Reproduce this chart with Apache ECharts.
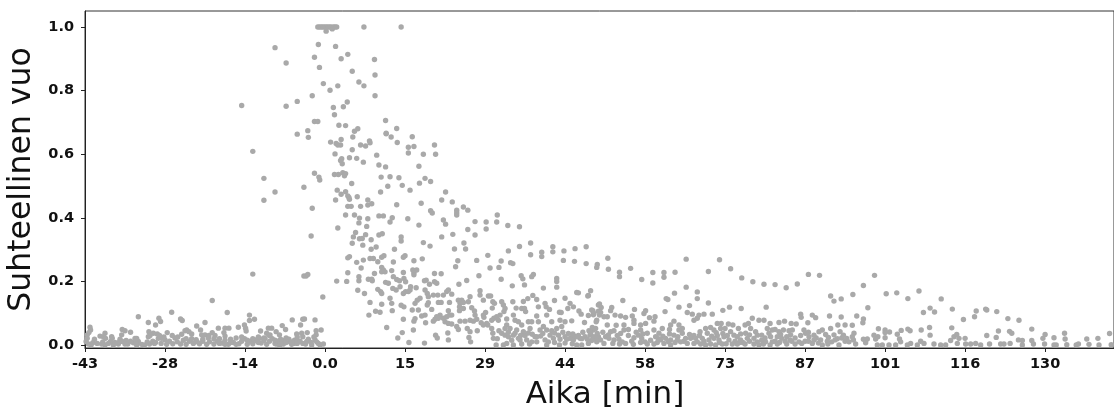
<!DOCTYPE html>
<html>
<head>
<meta charset="utf-8">
<script src="https://cdn.jsdelivr.net/npm/echarts@6/dist/echarts.min.js"></script>
<style>html,body{margin:0;padding:0;background:#fff}#c{width:1114px;height:407px}</style>
</head>
<body>
<div id="c"></div>
<script>
const xTickValues = [-43.2,-28.8,-14.4,0,14.4,28.8,43.2,57.6,72,86.4,100.8,115.2,129.6];
const xTickLabels = ['-43','-28','-14','0.0','15','29','44','58','73','87','101','116','130'];
const yTickValues = [0,0.2,0.4,0.6,0.8,1.0];
const xTitle = 'Aika [min]';
const yTitle = 'Suhteellinen vuo';

const beforeRise = [[-42.8,.032],[-42.3,.056],[-42.2,.047],[-42.5,.039],[-42.8,.021],[-43,.011],[-42.6,.003],[-41.5,.018],[-41.8,.007],[-42.1,0],[-40.5,.028],[-39.6,.037],[-39.9,.026],[-39.5,.021],[-40.2,.003],[-39.6,0],[-38.4,.026],[-38.3,.021],[-38.6,.011],[-38.1,0],[-37.2,.003],[-36.5,.049],[-36,.045],[-36.6,.032],[-36.9,.018],[-36.5,.011],[-35.8,.014],[-35,.04],[-35.5,.003],[-34.5,.007],[-34.2,.021],[-33.9,.021],[-33.6,.011],[-33.6,.089],[-33.9,0],[-31.8,.071],[-31.7,.042],[-31.8,.026],[-30.9,.037],[-30.2,.035],[-30.5,.063],[-29.9,.084],[-29.6,.074],[-30,.021],[-29.4,.021],[-28.8,.016],[-32.5,0],[-31.6,.003],[-30.7,.005],[-28.4,.039],[-27.6,.103],[-26,.082],[-25.7,.077],[-25.8,.034],[-25.2,.045],[-24.9,.047],[-24.5,.042],[-24,.035],[-23.1,.06],[-22.4,.047],[-21.6,.071],[-22.2,.032],[-21.6,.032],[-20.9,.03],[-20.3,.14],[-20.3,.039],[-19.8,.03],[-19.2,.053],[-18,.053],[-18.2,.039],[-18,.028],[-17.3,.053],[-17.6,.102],[-15.6,.056],[-14.5,.063],[-14.3,.053],[-14.2,.044],[-13.6,.094],[-13.6,.077],[-12.7,.081],[-11.6,.044],[-10.2,.053],[-9.6,.053],[-10.5,.037],[-9.9,.032],[-10.8,.021],[-11.8,.021],[-12.4,.016],[-8.8,.042],[-8.2,.032],[-7.7,.061],[-7.1,.049],[-5.9,.079],[-5.1,.035],[-4.4,.063],[-4,.081],[-3.7,.082],[-4.2,.037],[-4,.026],[-3.2,.039],[-1.8,.079],[-1.6,.045],[-.7,.047],[-1.6,.032],[-1.8,.016],[-1.2,.005],[-.9,0],[-2.4,0],[-3.3,.011],[-4,.005],[-5.1,.016],[-5.6,.005],[-6.6,.011],[-7.5,.014],[-8.2,0],[-8.8,.003]];

const baselineBand = [[-28,.012],[-27.4,.004],[-27,.022],[-26.6,.01],[-26,.003],[-25.5,.015],[-25,.002],[-24.4,.012],[-23.7,.005],[-23.2,.017],[-22.6,.004],[-22,.012],[-21.3,.002],[-20.8,.01],[-20,.003],[-19.4,.012],[-19,.02],[-18.5,.006],[-18,.015],[-17.4,.002],[-17,.018],[-16.5,.008],[-16,.022],[-15.5,.004],[-15,.012],[-14.5,.02],[-14,.002],[-13.5,.012],[-13,.004],[-12.5,.014],[-12,.025],[-11.5,.006],[-11,.014],[-10.5,.002],[-10,.012],[-9.5,.02],[-9,.005],[-8.5,.012],[-8,.018],[-7.5,.003],[-7,.008],[-6.5,.018],[-6,.002],[-5.5,.015],[-5,.005],[-4.5,.012],[-3.5,.003],[-3,.018],[-2.5,.008],[-2,.025],[-1.5,.01],[-.3,.003],[-29.5,.005],[-28.5,.002],[-29,.025],[-27.5,.03],[-26.5,.025],[-25,.02],[-24,.02],[-23,.01],[-22,.018],[-21,.022],[-20,.02],[-19,.005],[-18,.002],[-17,.008],[-16,.002],[-15,.025],[-14,.015],[-13,.02],[-12,.008],[-11,.022],[-10,.03],[-9,.015],[-8,.002],[-7,.022],[-6,.01],[-5,.025],[-41,.005],[-40,.01],[-39,.005],[-37.8,.008],[-37,.01],[-36,.003],[-35,.012],[-34,.005],[-33,.002],[-32,.01],[-31,.012],[-30.5,.008],[-29.8,.03],[-31.5,.03]];

const peakCrest = [[-1.3,1],[-1,1],[-.7,1],[-.4,1],[-.1,1],[.2,1],[.5,1],[.8,1],[1.1,1],[1.5,1],[1.8,1],[2.1,1],[.2,.987],[1.3,.994],[7,1],[13.7,1],[-1.2,.945],[1.9,.939],[4.1,.914],[2.9,.9],[-1.9,.905],[8.9,.898],[-1,.873],[4.9,.861],[9,.849],[6.1,.827],[7,.815],[-.3,.822],[2.3,.815],[.9,.801],[-2.3,.784],[9,.784],[4,.764],[1.5,.747],[3.3,.749],[1.7,.724],[10.9,.706],[-1.9,.703],[-1.3,.703],[2.5,.691],[3.7,.69],[5.9,.68],[5.3,.672],[12.9,.681],[-3.1,.674],[11,.666],[-9,.935],[-7,.887],[-15,.753],[-7,.751],[-5,.766]];

const riseFlank = [[-5,.663],[-3,.653],[-13,.609],[1,.638],[2,.634],[2.3,.629],[1.8,.601],[-11,.524],[-9,.481],[-11,.455],[-3.8,.496],[-1.9,.54],[-1.1,.528],[-.95,.519],[1.7,.536],[2.4,.536],[2.2,.487],[1.9,.456],[-2.3,.43],[2.3,.368],[-2.5,.343],[-13,.223],[-3.8,.217],[-3.4,.217],[-3.1,.222],[2.1,.201],[-.4,.151]];

const decayUpper = [[11,.664],[11.9,.654],[15.7,.655],[5,.654],[2.9,.646],[2.8,.629],[8,.642],[8.1,.636],[6.4,.629],[7.3,.626],[13,.637],[19.7,.629],[15,.622],[16,.624],[4.9,.614],[15,.604],[17.7,.6],[19.9,.6],[9.3,.597],[4.4,.589],[5.7,.587],[3,.586],[2.8,.58],[3.1,.57],[6.9,.575],[9.7,.566],[10.9,.56],[16.9,.562],[3.2,.542],[3.7,.539],[3.5,.532],[10.1,.528],[11.7,.529],[13.3,.526],[18,.524],[19,.514],[17,.509],[4.8,.508],[13.9,.502],[11.3,.499],[15.3,.487],[3.7,.482],[2.9,.474],[4.1,.469],[4.3,.464],[4.4,.458],[5.8,.466],[10,.481],[21.7,.481],[7.7,.456],[21,.456],[22.9,.45],[8.4,.444],[7.7,.44],[6.4,.436],[4.1,.436],[4.7,.436],[12.9,.441],[17.3,.446],[24.9,.434],[25.7,.424],[19,.422],[19.3,.415],[23.7,.424],[23.7,.416],[23.7,.409],[31,.409],[3.7,.409],[5.3,.409],[6.2,.399],[7.7,.397],[9.7,.406],[10.5,.406],[12.1,.4],[11.7,.387],[14.9,.397],[21.3,.393],[21.7,.38],[27,.388],[29,.387],[30.9,.387],[32.9,.376],[35,.372],[16.9,.377],[6.1,.384],[7.5,.373],[25.7,.363],[29,.365],[5.5,.354],[7.3,.347],[5.1,.34],[6.2,.334],[6.7,.335],[8.3,.331],[9.7,.346],[10.3,.35],[23,.348],[27,.346],[21,.34],[13.7,.34],[13.7,.327]];

const decayMiddle = [[4.9,.32],[6.8,.314],[8.3,.301],[9.2,.308],[12.5,.301],[17.7,.322],[18.9,.311],[23.3,.302],[25,.321],[25.3,.302],[29.3,.282],[33,.296],[35,.31],[37,.321],[37,.284],[39,.292],[39,.278],[41,.309],[41,.293],[43,.296],[45,.303],[47,.309],[4.4,.278],[4.1,.274],[10.6,.281],[10.2,.276],[14.4,.281],[14.1,.276],[5.7,.26],[6.9,.267],[8.1,.272],[8.7,.272],[9.5,.262],[12.3,.261],[16,.265],[17.5,.271],[23.9,.265],[23.5,.246],[27.3,.266],[31.7,.264],[33.4,.259],[33.8,.256],[42.9,.266],[44.9,.263],[47,.256],[49,.253],[48.9,.244],[6.5,.242],[10.2,.244],[10.5,.236],[10.2,.23],[10.8,.23],[12,.234],[14.1,.228],[15.8,.236],[16.5,.236],[16,.227],[19.7,.225],[20.9,.224],[29.7,.242],[31.3,.244],[4.1,.227],[8.9,.225],[6.1,.215],[6.1,.202],[3.9,.2],[7.8,.207],[8.4,.207],[8.5,.202],[10.9,.197],[11.4,.194],[12.3,.215],[12.9,.206],[13.4,.202],[14.2,.209],[14.5,.199],[16,.221],[17.9,.202],[18.2,.204],[19.7,.199],[20.1,.194],[18.8,.191],[24.1,.191],[25.5,.203],[27.7,.218],[31.7,.207],[35.3,.218],[35.6,.208],[37.2,.215],[37.5,.222],[41.7,.209],[41.7,.2],[41.7,.182],[33.7,.186],[35.9,.189],[39.3,.179]];

const decayDense = [[5.9,.172],[7.1,.162],[9.5,.175],[10,.168],[10.2,.162],[12.2,.178],[12.8,.173],[13.5,.183],[14.5,.168],[15.4,.183],[15.3,.173],[15,.168],[14.1,.162],[16.4,.18],[18,.173],[18.4,.162],[18.6,.152],[19.5,.157],[20.3,.157],[21.3,.157],[21.9,.168],[22.2,.173],[22.8,.16],[11.7,.147],[12,.131],[8.1,.134],[10.2,.128],[13.7,.125],[14.2,.12],[27.9,.171],[27.9,.157],[28.5,.141],[29.4,.154],[29.8,.154],[30.2,.136],[30.5,.131],[33.8,.136],[35.7,.137],[36.5,.146],[37.4,.156],[38.1,.143],[41.3,.14],[43.2,.147],[44.1,.131],[44.7,.12],[47.4,.156],[45.3,.165],[45.6,.164],[47.3,.154],[49.2,.126],[17.1,.147],[16.6,.141],[16.2,.131],[18.6,.133],[18.4,.126],[20.4,.134],[20.9,.134],[22.4,.134],[24,.141],[24.6,.141],[24.3,.131],[24.9,.134],[25.8,.136],[26.1,.152],[24.2,.12],[24.9,.115],[24.2,.108],[26.4,.117],[26.9,.107],[27,.094],[9.1,.106],[9.9,.103],[7.9,.094],[12.1,.108],[15.7,.11],[16.8,.11],[19.2,.112],[18,.094],[17.4,.091],[20.7,.094],[20.1,.089],[22.2,.108],[22.4,.094],[22.8,.094],[21.9,.089],[31.8,.136],[32.1,.126],[32.4,.115],[32.2,.105],[30.1,.116],[34.4,.116],[35.4,.115],[35.9,.115],[36.1,.105],[38.4,.12],[39.6,.131],[39.8,.12],[40.4,.112],[42.2,.103],[42.5,.102],[43.7,.115],[45.7,.107],[46.1,.097],[47.4,.093],[48.2,.108],[48.3,.095],[49.2,.106],[49.4,.094],[14.1,.081],[16.2,.083],[16,.075],[18.1,.07],[19.8,.081],[19.5,.075],[20.4,.084],[21.3,.084],[21.6,.073],[22.2,.068],[22.8,.066],[24.3,.075],[25.2,.075],[26.1,.078],[26.7,.075],[27.3,.081],[28.5,.094],[28.9,.102],[28.6,.087],[28.1,.07],[29.1,.068],[30,.078],[30.4,.084],[30.9,.089],[31.5,.094],[31.2,.078],[32.7,.082],[33.9,.094],[34.2,.078],[34.8,.073],[35.4,.063],[36.6,.073],[37.2,.073],[38.4,.073],[38.1,.091],[39.9,.094],[40.8,.073],[42.3,.078],[43.2,.073],[44.4,.076],[46.7,.071],[48.9,.078]];

const decayLower = [[11.1,.055],[13.9,.039],[15.9,.047],[13.1,.022],[15.1,.008],[17.9,.006],[19.9,.031],[20.2,.022],[22.1,.038],[22.2,.016],[23.7,.058],[24,.049],[25.6,.052],[26.1,.042],[25.9,.024],[26.2,.01],[27.4,.045],[28.5,.063],[29.3,.063],[30,.052],[30.2,.037],[30.3,.021],[32.7,.063],[32.4,.052],[31.8,.037],[32.4,.031],[33,.026],[33.9,.031],[34.8,.021],[36.3,.016],[37.8,.026],[39.3,.058],[39.9,.047],[40.5,.031],[41.7,.052],[42.6,.058],[43.2,.026],[44.1,.021],[44.7,.016],[45.9,.021],[46.8,.026],[47.7,.031],[48.3,.047],[49.2,.026],[33.3,.052],[34.5,.047],[35.7,.042],[36.9,.052],[38.1,.026],[38.7,.047],[39.6,.016],[41.1,.021],[42,.031],[43.5,.018],[45.3,.026],[47.4,.005],[48.9,.01],[30.8,0],[32.1,0],[33.9,0],[39.9,0],[42.2,0],[45.3,0],[46.2,0],[32.7,.005],[35.1,.016],[38.1,.01],[40.2,.01],[42.3,.018],[44.4,.024],[45,.028],[45.6,.03],[46.2,.02],[47.2,.018],[48,.014]];

const lowerBandFill = [[31.3,.045],[31,.02],[33,.04],[33.6,.015],[34.2,.037],[35.2,.03],[36,.03],[36.6,.038],[37.3,.034],[37.2,.01],[38.8,.028],[39.2,.036],[40.8,.045],[41.3,.038],[42.8,.04],[43.8,.036],[44.6,.035],[46.4,.04],[47.5,.045],[49,.036],[48.2,.018],[44.5,.004],[43.2,.006],[41.3,.008],[36.8,.003],[35.4,.003],[50,.04],[51,.032],[52.6,.03],[53.2,.036],[54.6,.03],[55.2,.012],[56,.04],[57.2,.035],[58.6,.015],[59.8,.008],[60.8,.028],[62,.035],[63,.008],[64.6,.012],[65.6,.033],[66.4,.03],[67.4,.03],[68.2,.012],[69.6,.028],[70.6,.03],[71.6,.036],[72.4,.03],[73.8,.012],[74.8,.035],[75.2,.008],[76.4,.032],[77.8,.01],[78.6,.015],[79.2,.022],[80.2,.026],[81,.012],[82,.033],[82.8,.012],[83.8,.032],[84.6,.022],[85.6,.03],[86.4,.012],[87,.04],[88.4,.022],[88.8,.006],[90.6,.024],[91.6,.032],[92.2,.02],[93,.022],[93.6,.012],[51.8,.005],[53,.003],[55.5,.002],[56.8,.008],[58,.003],[60,.02],[61.8,.01],[67.6,.003],[71,.008],[72.2,.004],[74.6,.008],[76.4,.012],[78.9,.003],[81.8,.008],[84,.012],[85.8,.005],[87,.012],[90.5,.003]];

const tailUpper = [[50.9,.273],[51,.238],[53,.229],[53,.215],[55,.241],[57,.206],[59,.228],[59,.195],[61,.228],[61,.213],[63,.229],[65,.27],[65,.182],[69,.231],[71,.268],[73,.24],[75,.211],[77,.199],[79,.191],[81,.19],[83,.18],[85,.192],[87,.222],[89,.219],[91,.154],[91.6,.138],[92.9,.145],[47.8,.171],[53.6,.14],[61.4,.146],[61.7,.143],[62.9,.163],[67,.167],[67,.146],[69,.132],[63.7,.119],[65.6,.124],[61.2,.105],[72.8,.119],[74.9,.115],[71.6,.109],[79.4,.119],[69.7,.097],[55.7,.112],[57.4,.099],[57.7,.108],[59.4,.089],[58.4,.086],[49.4,.129],[49.7,.118],[51.6,.118],[51.4,.108],[52.2,.094],[48,.11],[48.4,.099],[49.6,.102],[50.2,.089],[50.8,.089],[53.2,.091],[54.1,.087],[55.3,.091],[55.6,.078],[48.8,.073],[50.8,.063],[52.4,.062],[53.8,.063],[54.6,.049],[55.6,.068],[56.8,.063],[57.7,.068],[59.2,.075],[65.2,.102],[66.1,.097],[67.3,.094],[68.2,.097],[66.4,.078],[67,.084],[62.8,.075],[62.2,.063],[63.7,.063],[64.3,.052],[85.6,.097],[85.7,.087],[87.7,.094],[88.3,.086],[90.8,.091],[92.9,.088],[76.9,.084],[78.1,.078],[79,.078],[81.7,.071],[82.7,.075],[83.9,.068],[84.8,.066],[86.9,.07],[70.6,.068],[71.3,.068],[72.6,.066],[73.4,.063],[74.4,.052],[75.6,.063],[76.2,.068],[80.1,.068],[93.6,.063],[92.3,.063]];

const tailDense = [[48.1,.055],[48.7,.052],[47.8,.037],[48.4,.026],[49,.021],[49.6,.016],[50.5,.026],[51.4,.042],[52,.045],[51.1,.021],[52,.016],[52.9,.018],[53.5,.01],[54.1,.005],[50.2,.005],[53.8,.047],[55.6,.023],[56.4,.031],[57,.021],[57.6,.01],[58,.037],[56.8,.047],[59.2,.047],[60.1,.037],[60.7,.052],[59.5,.026],[60.4,.016],[61.3,.021],[61,.005],[59.2,.003],[62,.049],[62.8,.031],[63.5,.026],[64.3,.037],[63.7,.047],[64.9,.021],[65.8,.021],[66.7,.021],[62.2,.016],[63.4,.016],[65.2,.005],[66.4,.005],[62.2,0],[64,.01],[67,.01],[67.5,.042],[68.5,.052],[68.8,.037],[69.4,.055],[70,.047],[70.4,.039],[71.2,.052],[72,.052],[73,.042],[67.9,.021],[69.1,.016],[70,.021],[70.9,.016],[71.8,.026],[72.7,.016],[73.6,.031],[68.5,0],[70.3,0],[69.4,.003],[71.5,.003],[73.3,.003],[74.2,.026],[74.8,.016],[75.7,.037],[76.6,.052],[77.5,.042],[76,.021],[77.2,.021],[77.8,.031],[78.6,.031],[79.6,.052],[79.9,.037],[80.5,.047],[74.2,.003],[75.6,.003],[78.1,0],[79.3,.01],[80.1,0],[77.2,.003],[81,.049],[81.7,.042],[82.5,.047],[83.5,.045],[84.1,.047],[81.4,.026],[82.2,.021],[83.1,.026],[83.7,.016],[85.3,.01],[86.2,.047],[86.5,.037],[87.1,.026],[84.6,.003],[81.4,.003],[83.1,.003],[80.5,.01],[88,.031],[88.9,.042],[89.5,.047],[90.1,.033],[91,.052],[89.2,.016],[88,.016],[90.4,.012],[91.2,.01],[91.8,.016],[92.7,.042],[93.3,.031],[93.9,.021],[92.5,0],[87.7,.005],[89.5,0],[94.3,.01]];

const tailEnd = [[98.9,.219],[96.9,.187],[95,.159],[101,.161],[102.9,.164],[104.9,.146],[106.9,.17],[110.9,.145],[97.7,.117],[95.7,.091],[96.9,.082],[96.8,.07],[107.7,.102],[108.9,.116],[109.7,.104],[112.9,.113],[114.9,.08],[116.9,.089],[117.2,.107],[118.9,.113],[119.1,.11],[120.9,.105],[122.9,.083],[124.9,.078],[112.8,.054],[99.6,.051],[100.8,.047],[101.6,.041],[100.8,.039],[103.7,.046],[104.9,.05],[105.3,.045],[107.3,.047],[108.8,.055],[108.9,.031],[94.9,.062],[95.2,.037],[94.9,.026],[95.1,.016],[95.5,.003],[96.9,.018],[97.6,.019],[97.3,.007],[98.8,.031],[99.5,.026],[99.1,.019],[100.8,.023],[103,.034],[103.4,.019],[103.6,.01],[99.4,0],[100.3,0],[101.5,0],[102.7,0],[104.8,0],[105.4,.005],[106.6,0],[107.2,.012],[107.8,.005],[109.6,.003],[110.8,0],[111.7,0],[112.6,.014],[113.2,.026],[113.7,.033],[114.1,.021],[113.8,.005],[115.2,.021],[115.3,.003],[116.2,.003],[117.1,.005],[118,0],[119.1,.03],[119.6,.003],[120.8,.024],[121.2,.044],[121.6,.003],[122.2,.003],[123.2,.043],[123.6,.037],[123.3,.005],[124.8,.016],[125.5,.014],[125.5,0],[127.2,.05],[127.2,.014],[127.5,.003],[129.2,.021],[129.6,.033],[129.5,.003],[131.2,.023],[131.2,0],[131.6,0],[133.1,.037],[133.2,.019],[133.5,.001],[135.2,0],[135.6,.003],[137.1,.019],[137.5,.002],[139.1,.021],[139.3,0],[141.2,.036],[141.5,.001]];

const allPoints = [].concat(beforeRise, baselineBand, peakCrest, riseFlank, decayUpper, decayMiddle, decayDense, decayLower, lowerBandFill, tailUpper, tailDense, tailEnd);

const chart = echarts.init(document.getElementById('c'), null, {renderer:'canvas'});
const font = 'DejaVu Sans';
chart.setOption({
  animation:false,
  backgroundColor:'#fff',
  grid:{left:85,right:0,top:11,bottom:59,show:true,borderColor:'#333',borderWidth:1,backgroundColor:'transparent',outerBoundsMode:'none'},
  xAxis:{
    type:'value',min:-43.2,max:142,
    name:xTitle,nameLocation:'middle',nameGap:31,
    nameTextStyle:{fontFamily:font,fontSize:31,color:'#111',padding:[0,0,0,11]},
    splitLine:{show:false},
    axisLine:{onZero:false,lineStyle:{color:'#222',width:1}},
    axisTick:{show:true,length:4,customValues:xTickValues,lineStyle:{color:'#222',width:1}},
    axisLabel:{customValues:xTickValues,margin:9,fontFamily:font,fontSize:14.5,fontWeight:'bold',color:'#111',
      formatter:v=>xTickLabels[xTickValues.findIndex(t=>Math.abs(t-v)<1e-6)]}
  },
  yAxis:{
    type:'value',min:-0.0094,max:1.0503,
    name:yTitle,nameLocation:'middle',nameGap:41,
    nameTextStyle:{fontFamily:font,fontSize:31.5,color:'#111'},
    splitLine:{show:false},
    axisLine:{onZero:false,lineStyle:{color:'#222',width:1}},
    axisTick:{show:true,length:4,customValues:yTickValues,lineStyle:{color:'#222',width:1}},
    axisLabel:{customValues:yTickValues,margin:11,padding:[3,0,0,0],fontFamily:font,fontSize:14.5,fontWeight:'bold',color:'#111',
      formatter:v=>v.toFixed(1)}
  },
  series:[{type:'scatter',data:allPoints,symbolSize:5.4,silent:true,itemStyle:{color:'#a9a9a9',opacity:1},clip:true}]
});
</script>
</body>
</html>
